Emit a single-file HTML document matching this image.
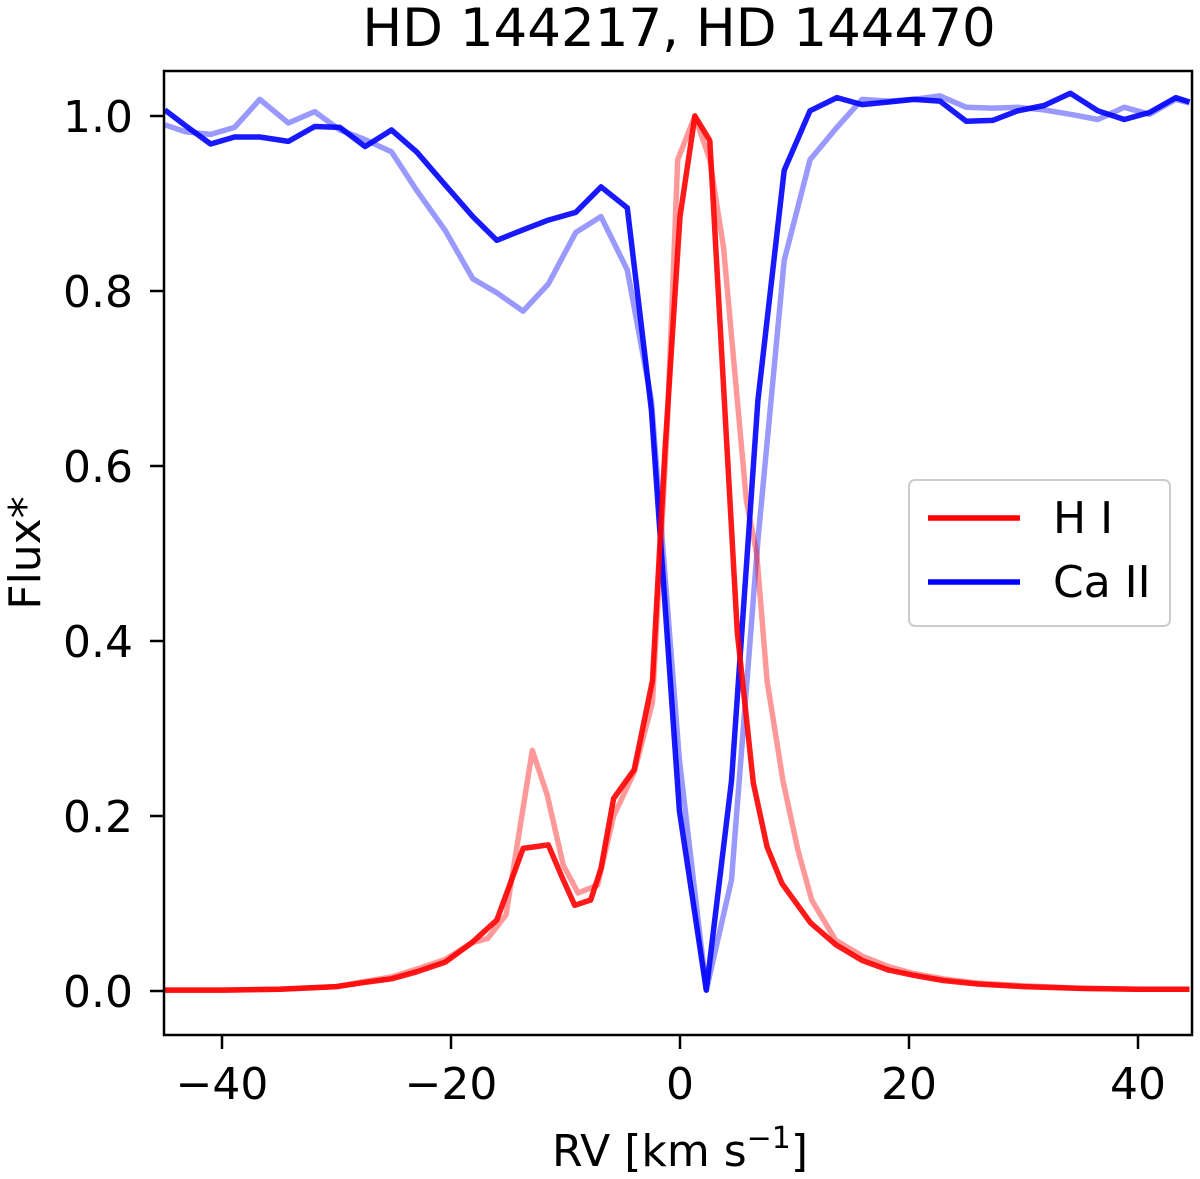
<!DOCTYPE html>
<html><head><meta charset="utf-8"><style>
html,body{margin:0;padding:0;background:#fff;}
svg{display:block;font-family:"DejaVu Sans","Liberation Sans",sans-serif;}
</style></head><body>
<svg id="chart" width="1200" height="1179" viewBox="0 0 1200 1179" xmlns="http://www.w3.org/2000/svg">
<defs><clipPath id="clip"><rect x="164" y="71" width="1028" height="964"/></clipPath></defs>
<text x="679" y="46" font-size="53" text-anchor="middle">HD 144217, HD 144470</text>
<g id="series" clip-path="url(#clip)"></g>
<g id="axes"></g>
<rect x="164" y="71" width="1028" height="964" fill="none" stroke="#000" stroke-width="2.5"/>
<text transform="translate(40,553) rotate(-90)" font-size="44" text-anchor="middle">Flux*</text>
<text x="680" y="1166" font-size="44" text-anchor="middle">RV [km s<tspan font-size="30" dy="-18">−1</tspan><tspan dy="18">]</tspan></text>
<g>
<rect x="909" y="480" width="261" height="146" rx="6" fill="#fff" stroke="#ccc" stroke-width="2"/>
<line x1="928" y1="518" x2="1020" y2="518" stroke="#ff0000" stroke-width="5.5"/>
<text x="1053" y="533" font-size="44">H I</text>
<line x1="928" y1="582" x2="1020" y2="582" stroke="#0000ff" stroke-width="5.5"/>
<text x="1053" y="597" font-size="44">Ca II</text>
</g>
</svg>
<script>
const xTicks=[-40,-20,0,20,40];
const yTicks=[0.0,0.2,0.4,0.6,0.8,1.0];
const yTickLabels=["0.0","0.2","0.4","0.6","0.8","1.0"];
const caRV=[-45.0,-43.2,-41.0,-38.9,-36.7,-34.2,-31.9,-29.7,-27.5,-25.2,-23.0,-20.5,-18.1,-16.0,-13.7,-11.5,-9.1,-6.9,-4.6,-2.5,-0.05,2.3,4.5,6.8,9.1,11.35,13.7,15.9,18.2,20.4,22.7,25.0,27.3,29.5,31.8,34.1,36.5,38.8,41.0,43.3,44.5];
const caDark=[1.007,0.989,0.968,0.976,0.976,0.971,0.988,0.987,0.965,0.984,0.959,0.921,0.885,0.858,0.870,0.881,0.890,0.919,0.895,0.664,0.206,0.001,0.240,0.675,0.938,1.006,1.021,1.013,1.016,1.019,1.017,0.994,0.995,1.006,1.012,1.026,1.006,0.996,1.004,1.021,1.016];
const caLight=[0.990,0.982,0.979,0.987,1.019,0.992,1.005,0.984,0.973,0.959,0.915,0.869,0.814,0.798,0.777,0.808,0.867,0.885,0.824,0.675,0.264,0.001,0.127,0.515,0.835,0.950,0.987,1.019,1.017,1.019,1.023,1.010,1.009,1.010,1.007,1.002,0.996,1.010,1.002,1.019,1.015];
const hiDarkRV=[-45,-40,-35,-30,-27.5,-25.2,-23.0,-20.5,-18.2,-16.0,-13.7,-11.5,-10.3,-9.2,-7.8,-6.9,-5.8,-4.0,-2.4,-1.3,0.0,1.3,2.6,5.0,6.4,7.6,8.9,11.4,13.6,15.9,18.2,20.4,23,26,30,35,40,44.5];
const hiDark=[0.001,0.001,0.002,0.005,0.010,0.014,0.022,0.033,0.055,0.081,0.163,0.167,0.130,0.098,0.104,0.140,0.220,0.253,0.355,0.620,0.885,1.000,0.972,0.410,0.238,0.165,0.123,0.078,0.053,0.035,0.024,0.018,0.012,0.008,0.005,0.003,0.002,0.002];
const hiLightRV=[-45,-40,-35,-30,-27.5,-25.2,-23.0,-20.5,-18.2,-16.8,-15.2,-12.9,-11.6,-10.2,-8.9,-7.2,-5.8,-4.0,-2.4,-1.1,-0.2,1.3,2.6,3.8,5.8,6.7,7.6,9.0,10.3,11.5,13.6,15.9,18.2,20.4,23,26,30,35,40,44.5];
const hiLight=[0.001,0.001,0.002,0.005,0.011,0.016,0.025,0.036,0.055,0.060,0.087,0.275,0.224,0.144,0.112,0.121,0.200,0.250,0.330,0.650,0.950,1.000,0.950,0.850,0.560,0.500,0.355,0.240,0.161,0.104,0.058,0.040,0.028,0.020,0.014,0.009,0.006,0.003,0.002,0.002];

function sx(v){return 680+v*11.45;}
function sy(v){return 991-v*875;}
const NS='http://www.w3.org/2000/svg';
const axes=document.getElementById('axes');
xTicks.forEach(t=>{
  const l=document.createElementNS(NS,'line');
  
  
  l.setAttribute('x1',sx(t));l.setAttribute('x2',sx(t));l.setAttribute('y1',1035);l.setAttribute('y2',1049);l.setAttribute('stroke','#000');l.setAttribute('stroke-width','2.5');
  axes.appendChild(l);
  const tx=document.createElementNS(NS,'text');
  
  
  tx.setAttribute('x',sx(t));tx.setAttribute('y',1099);tx.setAttribute('font-size','44');tx.setAttribute('text-anchor','middle');
  tx.textContent=(t<0?'−':'')+Math.abs(t);
  axes.appendChild(tx);
});
yTicks.forEach((t,i)=>{
  const l=document.createElementNS(NS,'line');
  
  
  l.setAttribute('x1',150);l.setAttribute('x2',164);l.setAttribute('y1',sy(t));l.setAttribute('y2',sy(t));l.setAttribute('stroke','#000');l.setAttribute('stroke-width','2.5');
  axes.appendChild(l);
  const tx=document.createElementNS(NS,'text');
  
  
  tx.setAttribute('x',133);tx.setAttribute('y',sy(t)+16);tx.setAttribute('font-size','44');tx.setAttribute('text-anchor','end');
  tx.textContent=yTickLabels[i];
  axes.appendChild(tx);
});
const g=document.getElementById('series');
function draw(xs,ys,color,op,name){
  const p=document.createElementNS(NS,'polyline');
  
  
  p.setAttribute('points',xs.map((x,i)=>sx(x).toFixed(1)+','+sy(ys[i]).toFixed(1)).join(' '));
  p.setAttribute('fill','none');p.setAttribute('stroke',color);p.setAttribute('stroke-opacity',op);
  p.setAttribute('stroke-width','5.5');p.setAttribute('stroke-linejoin','round');
  g.appendChild(p);
}
draw(caRV,caLight,'#0000ff','0.4','caii-line-light');
draw(hiLightRV,hiLight,'#ff0000','0.4','hi-line-light');
draw(caRV,caDark,'#0000ff','0.9','caii-line');
draw(hiDarkRV,hiDark,'#ff0000','0.9','hi-line');
</script>
</body></html>
